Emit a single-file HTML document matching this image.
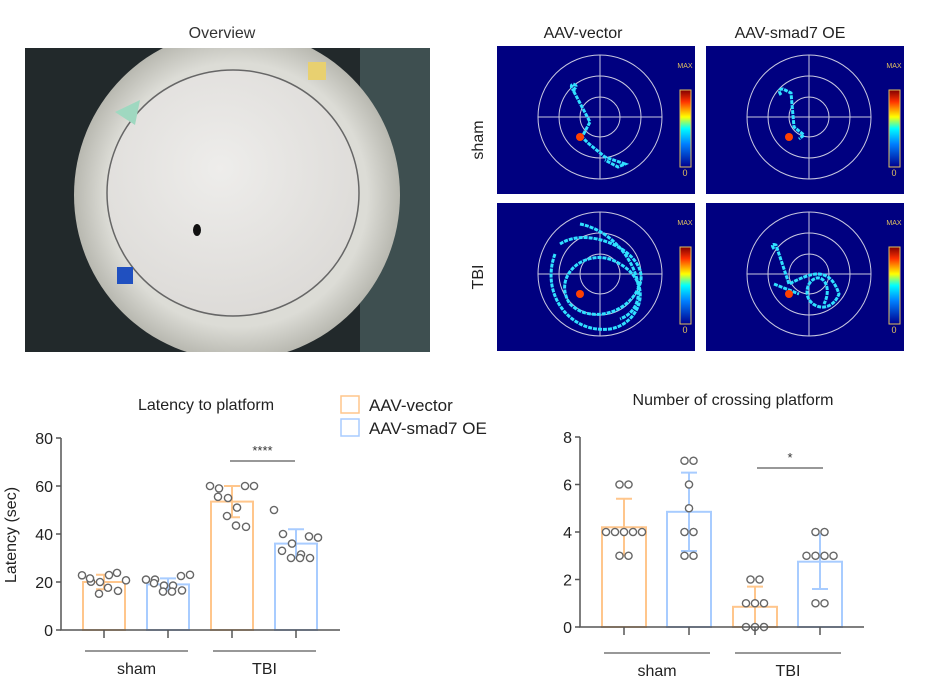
<!DOCTYPE html>
<html><head><meta charset="utf-8"><style>
body{margin:0;background:#fff;width:932px;height:689px;overflow:hidden}
svg{display:block;font-family:"Liberation Sans",sans-serif}
</style></head><body>
<svg id="fig" width="932" height="689" viewBox="0 0 932 689">
<defs>
<radialGradient id="dishg" cx="0.5" cy="0.5" r="0.5"><stop offset="0.8" stop-color="#dcdcd6"/><stop offset="1" stop-color="#b8b8b0"/></radialGradient>
<radialGradient id="innerg" cx="0.45" cy="0.4" r="0.6"><stop offset="0" stop-color="#eeedeb"/><stop offset="1" stop-color="#dddbd8"/></radialGradient>
<linearGradient id="cbar" x1="0" y1="1" x2="0" y2="0"><stop offset="0" stop-color="#00008f"/><stop offset="0.3" stop-color="#0080ff"/><stop offset="0.5" stop-color="#00ffff"/><stop offset="0.65" stop-color="#ffff00"/><stop offset="0.85" stop-color="#ff3000"/><stop offset="1" stop-color="#800000"/></linearGradient>
</defs>
<text x="222" y="38" font-size="16" text-anchor="middle" fill="#333">Overview</text>
<g>
<rect x="25" y="48" width="405" height="304" fill="#22292b"/>
<rect x="360" y="48" width="70" height="304" fill="#3e4f50"/>
<clipPath id="pc"><rect x="25" y="48" width="405" height="304"/></clipPath>
<g clip-path="url(#pc)">
<ellipse cx="237" cy="195" rx="163" ry="165" fill="url(#dishg)"/>
<ellipse cx="233" cy="193" rx="126" ry="123" fill="url(#innerg)" stroke="#666" stroke-width="1.5"/>
<rect x="117" y="267" width="16" height="17" fill="#2050c0"/>
<path d="M115 112 L140 100 L135 125 Z" fill="#9fd8c0"/>
<rect x="308" y="62" width="18" height="18" fill="#e8d070"/>
<ellipse cx="197" cy="230" rx="4" ry="6" fill="#111"/>
</g></g>
<text x="583" y="38" font-size="16" text-anchor="middle" fill="#222">AAV-vector</text>
<text x="790" y="38" font-size="16" text-anchor="middle" fill="#222">AAV-smad7 OE</text>
<text transform="translate(483,140) rotate(-90)" font-size="16" text-anchor="middle" fill="#222">sham</text>
<text transform="translate(483,277) rotate(-90)" font-size="16" text-anchor="middle" fill="#222">TBI</text>
<g id="heatmaps"></g>
<g id="chart1"></g>
<g id="chart2"></g>
</svg>
<script>
const NS="http://www.w3.org/2000/svg";
function mk(tag,attrs,parent){const e=document.createElementNS(NS,tag);for(const k in attrs)e.setAttribute(k,attrs[k]);parent.appendChild(e);return e;}
const hm=document.getElementById('heatmaps');
const panelX=[497,706], panelY=[46,203];
const paths=[
 "M-25,-25 q-6,-6 -2,-8 q6,2 0,6 L-10,5 L-18,20 L-12,26 L5,40 L25,47 L18,50 L5,43",
 "M-28,-22 q-4,-6 2,-6 l8,4 L-15,10 L-5,18 L-10,22",
 "M-45,-20 C-60,20 -30,60 10,55 C40,50 55,10 20,-10 C-10,-30 -50,0 -30,30 C-10,50 30,40 40,10 C50,-20 -10,-50 -40,-30 M-20,-50 C30,-40 60,30 20,45",
 "M-35,-25 q-4,-6 2,-4 L-20,10 C0,0 20,-10 30,20 C20,45 -10,30 0,10 C10,-5 25,10 15,30 M-35,10 L-10,20"
];
let pi=0;
for(let r=0;r<2;r++)for(let c=0;c<2;c++){
 const g=mk('g',{},hm);
 
 
 const x=panelX[c],y=panelY[r];
 mk('rect',{x:x,y:y,width:198,height:148,fill:'#000080'},g);
 const cx=x+103,cy=y+71;
 [62,41,20].forEach(rr=>mk('circle',{cx:cx,cy:cy,r:rr,fill:'none',stroke:'#c8c8e0','stroke-width':1},g));
 mk('line',{x1:cx-62,y1:cy,x2:cx+62,y2:cy,stroke:'#c8c8e0'},g);
 mk('line',{x1:cx,y1:cy-62,x2:cx,y2:cy+62,stroke:'#c8c8e0'},g);
 mk('path',{d:paths[pi],transform:`translate(${cx},${cy})`,fill:'none',stroke:'#30e0ff','stroke-width':3,'stroke-dasharray':'4 1'},g);
 mk('circle',{cx:cx-20,cy:cy+20,r:4,fill:'#ff4000'},g);
 mk('rect',{x:x+183,y:y+44,width:11,height:77,fill:'url(#cbar)',stroke:'#e0c060'},g);
 const t1=mk('text',{x:x+188,y:y+22,'font-size':7,'text-anchor':'middle',fill:'#e0c060'},g);t1.textContent='MAX';
 const t2=mk('text',{x:x+188,y:y+130,'font-size':9,'text-anchor':'middle',fill:'#e0c060'},g);t2.textContent='0';
 pi++;
}
</script>
<script>
// ===== Chart data =====
const groups=["sham","TBI"];
const seriesNames=["AAV-vector","AAV-smad7 OE"];
const latMeans=[20,19,53.5,36];
const latSD=[3,2.5,6.5,6];
const latPts=[
 [22.8,23.8,20.1,20.7,20,21.5,22.9,15.1,16.3,17.6],
 [21,22.5,21,23,18.5,19.5,18.5,16,16.5,16],
 [60,60,59,60,55,55.5,51,47.5,43,43.5],
 [50,39,40,38.5,36,33,31.5,30,30,30]];
const latTicks=[0,20,40,60,80];
const crMeans=[4.2,4.85,0.85,2.75];
const crSD=[1.2,1.65,0.85,1.15];
const crPts=[
 [6,6,4,4,4,4,4,3,3],
 [7,7,6,5,4,4,3,3],
 [2,2,1,1,1,0,0,0],
 [4,4,3,3,3,3,1,1]];
const crTicks=[0,2,4,6,8];
const colors=["#ffc68c","#a8ccff"];

function drawChart(gid,cfg){
 const g=document.getElementById(gid);
 const ys=v=>cfg.y0-(v-cfg.min)/(cfg.max-cfg.min)*(cfg.y0-cfg.y1);
 const t=mk('text',{x:cfg.titleX,y:cfg.titleY,'font-size':16,'text-anchor':'middle',fill:'#222'},g);
 
 
 t.textContent=cfg.title;
 cfg.means.forEach((m,i)=>{
  const bx=cfg.barX[i],col=colors[i%2],c=bx+cfg.bw/2;
  const b=mk('rect',{x:bx,y:ys(m),width:cfg.bw,height:cfg.y0-ys(m),fill:'none',stroke:col,'stroke-width':2},g);
  
  
  const e=mk('path',{d:`M${c},${ys(m-cfg.sd[i])}V${ys(m+cfg.sd[i])}M${c-8},${ys(m+cfg.sd[i])}h16M${c-8},${ys(m-cfg.sd[i])}h16`,stroke:col,'stroke-width':2,fill:'none'},g);
  
  
  const pts=cfg.pts[i];
  const counts={},seen={};
  pts.forEach(v=>{counts[v]=(counts[v]||0)+1;});
  pts.forEach((v,idx)=>{
   let dx;
   if(cfg.stack){const n=counts[v],k=(seen[v]=(seen[v]||0)+1)-1;dx=(k-(n-1)/2)*9;}
   else{dx=((idx*3)%5-2)*9+((idx%2)?4:-4);}
   const p=mk('circle',{cx:c+dx,cy:ys(v),r:3.6,fill:'#fff',stroke:'#666','stroke-width':1.4},g);
   
   
  });
  mk('line',{x1:c,y1:cfg.y0,x2:c,y2:cfg.y0+8,stroke:'#555','stroke-width':1.5},g);
 });
 const ax=mk('path',{d:`M${cfg.ax},${cfg.y1}V${cfg.y0}H${cfg.axEnd}`,stroke:'#555','stroke-width':1.5,fill:'none'},g);
 
 
 cfg.ticks.forEach(v=>{
  mk('line',{x1:cfg.ax-5,y1:ys(v),x2:cfg.ax,y2:ys(v),stroke:'#555','stroke-width':1.5},g);
  const tl=mk('text',{x:cfg.ax-8,y:ys(v)+6,'font-size':16,'text-anchor':'end',fill:'#222'},g);
  
  
  tl.textContent=v;
 });
 groups.forEach((gn,k)=>{
  const l=cfg.barX[k*2]+2,r=cfg.barX[k*2+1]+cfg.bw-1;
  mk('line',{x1:l,y1:cfg.gy,x2:r,y2:cfg.gy,stroke:'#777','stroke-width':1.5},g);
  const gl=mk('text',{x:(l+r)/2,y:cfg.gy+23,'font-size':16,'text-anchor':'middle',fill:'#222'},g);
  
  
  gl.textContent=gn;
 });
 const sy=cfg.sigY;
 mk('line',{x1:cfg.sigX[0],y1:sy,x2:cfg.sigX[1],y2:sy,stroke:'#777','stroke-width':1.5},g);
 const st=mk('text',{x:(cfg.sigX[0]+cfg.sigX[1])/2,y:sy-6,'font-size':13,'text-anchor':'middle',fill:'#333'},g);
 
 
 st.textContent=cfg.sig;
}
drawChart('chart1',{min:0,max:80,y0:630,y1:438,ax:61,axEnd:340,barX:[83,147,211,275],bw:42,
 means:latMeans,sd:latSD,pts:latPts,ticks:latTicks,gy:651,title:"Latency to platform",titleX:206,titleY:410,
 sigX:[230,295],sigY:461,sig:"****",stack:false});
drawChart('chart2',{min:0,max:8,y0:627,y1:437,ax:580,axEnd:864,barX:[602,667,733,798],bw:44,
 means:crMeans,sd:crSD,pts:crPts,ticks:crTicks,gy:653,title:"Number of crossing platform",titleX:733,titleY:405,
 sigX:[757,823],sigY:468,sig:"*",stack:true});
const c1=document.getElementById('chart1');
const yt=mk('text',{transform:'translate(16,535) rotate(-90)','font-size':16,'text-anchor':'middle',fill:'#222'},c1);


yt.textContent='Latency (sec)';
seriesNames.forEach((n,i)=>{
 const y=396+i*23;
 const lg=mk('g',{},c1);
 
 
 mk('rect',{x:341,y:y,width:18,height:17,fill:'none',stroke:colors[i],'stroke-width':1.5},lg);
 const tx=mk('text',{x:369,y:y+15,'font-size':17,fill:'#222'},lg);
 tx.textContent=n;
});
</script>
</body></html>
